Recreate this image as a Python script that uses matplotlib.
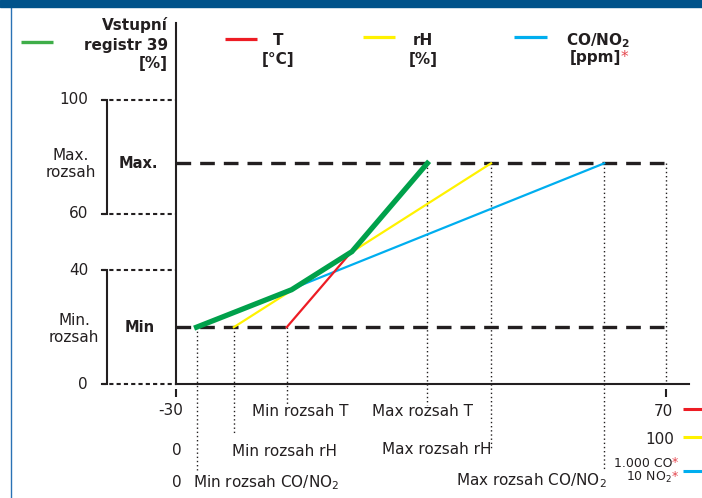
import matplotlib
matplotlib.use("Agg")
import matplotlib.pyplot as plt
import matplotlib.transforms as mtransforms
from matplotlib.lines import Line2D
from matplotlib.patches import Rectangle

# ---------------- data ----------------
y_tick_values = [0, 40, 60, 100]
y_tick_labels = ["0", "40", "60", "100"]
level_min = 20.0          # "Min" output level (%)
level_max = 77.7          # "Max." output level (%)
axis_ends = [-30, 70]     # T scale at the ends of the x axis

t_x = [-7.4, 21.3]        # T sensor line (start at Min rozsah T, end at Max rozsah T)
rh_x = [-18.2, 34.3]      # rH sensor line
co_x = [-25.8, 57.4]      # CO/NO2 sensor line
sensor_y = [level_min, level_max]

out_x = [-25.8, -6.4, 5.9, 21.3]     # Vstupní registr 39 (output) vertices
out_y = [20.0, 33.2, 46.6, 77.7]

# ---------------- style ----------------
DARK = "#231f20"
GREEN = "#00a14b"
RED = "#ed1c24"
YELLOW = "#fff200"
BLUE = "#00aeef"
STAR = "#e5474e"
W, H = 702, 498

fig = plt.figure(figsize=(W / 100, H / 100), dpi=100)
ax = fig.add_axes([176 / W, 1 - 384 / H, 513 / W, 361 / H])
ax.set_xlim(-30, 74.7)
ax.set_ylim(0, 127.1)
ax.set_xticks([])
ax.set_yticks([])
for s in ["top", "right"]:
    ax.spines[s].set_visible(False)
for s in ["left", "bottom"]:
    ax.spines[s].set_color(DARK)
    ax.spines[s].set_linewidth(1.5)
ax.patch.set_alpha(0)

# pixel transform (x right, y down from top-left)
px = mtransforms.Affine2D().scale(1, -1).translate(0, H)
bx = mtransforms.blended_transform_factory(px, ax.transData)   # x in px, y in data


def px_to_ydata(py):
    return ax.transData.inverted().transform((0, H - py))[1]


# frame decoration
fig.patches.append(Rectangle((0, 1 - 7 / H), 1, 7 / H, transform=fig.transFigure,
                             color="#00528a", zorder=10))
fig.lines.append(Line2D([11 / W, 11 / W], [0, 1 - 7 / H], transform=fig.transFigure,
                        color="#2a72b5", lw=1.0))

# Min / Max dashed levels
for lv in (level_min, level_max):
    ax.plot([-29.9, axis_ends[1]], [lv, lv], color=DARK, lw=2.4, dashes=(4.4, 2.7),
            solid_capstyle="butt", zorder=2, clip_on=False)

# vertical dotted guides
guides = [
    (co_x[0], level_min, 470),
    (rh_x[0], level_min, 433),
    (t_x[0], level_min, 405),
    (t_x[1], level_max, 405),
    (rh_x[1], level_max, 450),
    (co_x[1], level_max, 470),
    (axis_ends[1], level_max, 384),
]
for gx, gy, gbot in guides:
    ax.plot([gx, gx], [gy, px_to_ydata(gbot)], color=DARK, lw=1.0, dashes=(1, 2),
            clip_on=False, zorder=1)

# sensor lines
ax.plot(co_x, sensor_y, color=BLUE, lw=1.6, zorder=3, clip_on=False)
ax.plot(rh_x, sensor_y, color=YELLOW, lw=1.6, zorder=3, clip_on=False)
ax.plot(t_x, sensor_y, color=RED, lw=1.6, zorder=3, clip_on=False)
ax.plot(out_x, out_y, color=GREEN, lw=3.8, zorder=5, clip_on=False,
        solid_joinstyle="miter")

# x-axis end ticks (detached, below the axis)
for xv in axis_ends:
    ax.plot([xv, xv], [px_to_ydata(388.5), px_to_ydata(396.5)], color=DARK, lw=1.5,
            clip_on=False, solid_capstyle="butt")

# y ticks: dotted lines + labels
for v, lab_ in zip(y_tick_values, y_tick_labels):
    ax.plot([102, 176], [v, v], transform=bx, color=DARK, lw=1.5, dashes=(2, 1.5),
            clip_on=False)
    ax.text(88, v, lab_, transform=bx, ha="right", va="center", fontsize=11, color=DARK)

# brackets
for lo, hi in ((y_tick_values[2], y_tick_values[3]), (y_tick_values[0], y_tick_values[1])):
    ax.plot([102, 107, 107, 102], [hi, hi, lo, lo], transform=bx, color=DARK, lw=1.5,
            clip_on=False, solid_joinstyle="miter")

ax.text(71, 164, "Max.\nrozsah", transform=px, ha="center", va="center", fontsize=11,
        color=DARK, linespacing=1.15)
ax.text(74, 329, "Min.\nrozsah", transform=px, ha="center", va="center", fontsize=11,
        color=DARK, linespacing=1.15)
ax.text(138, level_max, "Max.", transform=bx, ha="center", va="center", fontsize=10.5,
        fontweight="bold", color=DARK)
ax.text(140, level_min, "Min", transform=bx, ha="center", va="center", fontsize=10.5,
        fontweight="bold", color=DARK)

# ---------------- top legend ----------------
def leg_line(x0, x1, y, color, lw=2.3):
    ax.plot([x0, x1], [y, y], transform=px, color=color, lw=lw, clip_on=False,
            solid_capstyle="butt")


leg_line(21, 53, 41.5, "#3fae49", 2.4)
for txt, yb in (("Vstupní", 30), ("registr 39", 50), ("[%]", 68)):
    ax.text(168, yb, txt, transform=px, ha="right", va="baseline", fontsize=11,
            fontweight="bold", color=DARK)

leg_line(225, 257, 39, RED)
ax.text(278, 45, "T", transform=px, ha="center", va="baseline", fontsize=11,
        fontweight="bold", color=DARK)
ax.text(278, 64, "[°C]", transform=px, ha="center", va="baseline", fontsize=11,
        fontweight="bold", color=DARK)

leg_line(363, 395, 37, YELLOW)
ax.text(423, 45, "rH", transform=px, ha="center", va="baseline", fontsize=11,
        fontweight="bold", color=DARK)
ax.text(423, 64, "[%]", transform=px, ha="center", va="baseline", fontsize=11,
        fontweight="bold", color=DARK)

leg_line(514, 547, 37, BLUE)
ax.text(598, 45, r"CO/NO$_\mathbf{2}$", transform=px, ha="center", va="baseline",
        fontsize=11, fontweight="bold", color=DARK)
ax.text(621, 62, "[ppm]", transform=px, ha="right", va="baseline", fontsize=11,
        fontweight="bold", color=DARK)
ax.text(621, 62, "*", transform=px, ha="left", va="baseline", fontsize=11,
        color=STAR)

# ---------------- bottom labels ----------------
def lab(x, y, s, ha, size=11, color=DARK):
    ax.text(x, y, s, transform=px, ha=ha, va="baseline", fontsize=size, color=color)


lab(183, 415, str(axis_ends[0]), "right")
lab(252, 416, "Min rozsah T", "left")
lab(372, 416, "Max rozsah T", "left")
lab(673, 416, str(axis_ends[1]), "right")
leg_line(683, 702, 409, RED, 2.2)

lab(182, 455, "0", "right")
lab(232, 456, "Min rozsah rH", "left")
lab(492, 454, "Max rozsah rH", "right")
lab(674, 444, "100", "right")
leg_line(683, 702, 437, YELLOW, 2.2)

lab(182, 487, "0", "right")
lab(193, 487, r"Min rozsah CO/NO$_2$", "left")
lab(607, 485, r"Max rozsah CO/NO$_2$", "right")
lab(672, 467, "1.000 CO", "right", 9)
lab(672, 466, "*", "left", 9, STAR)
lab(672, 481, r"10 NO$_2$", "right", 9)
lab(672, 480, "*", "left", 9, STAR)
leg_line(683, 702, 471, BLUE, 2.2)

fig.savefig("out.png", dpi=100)
